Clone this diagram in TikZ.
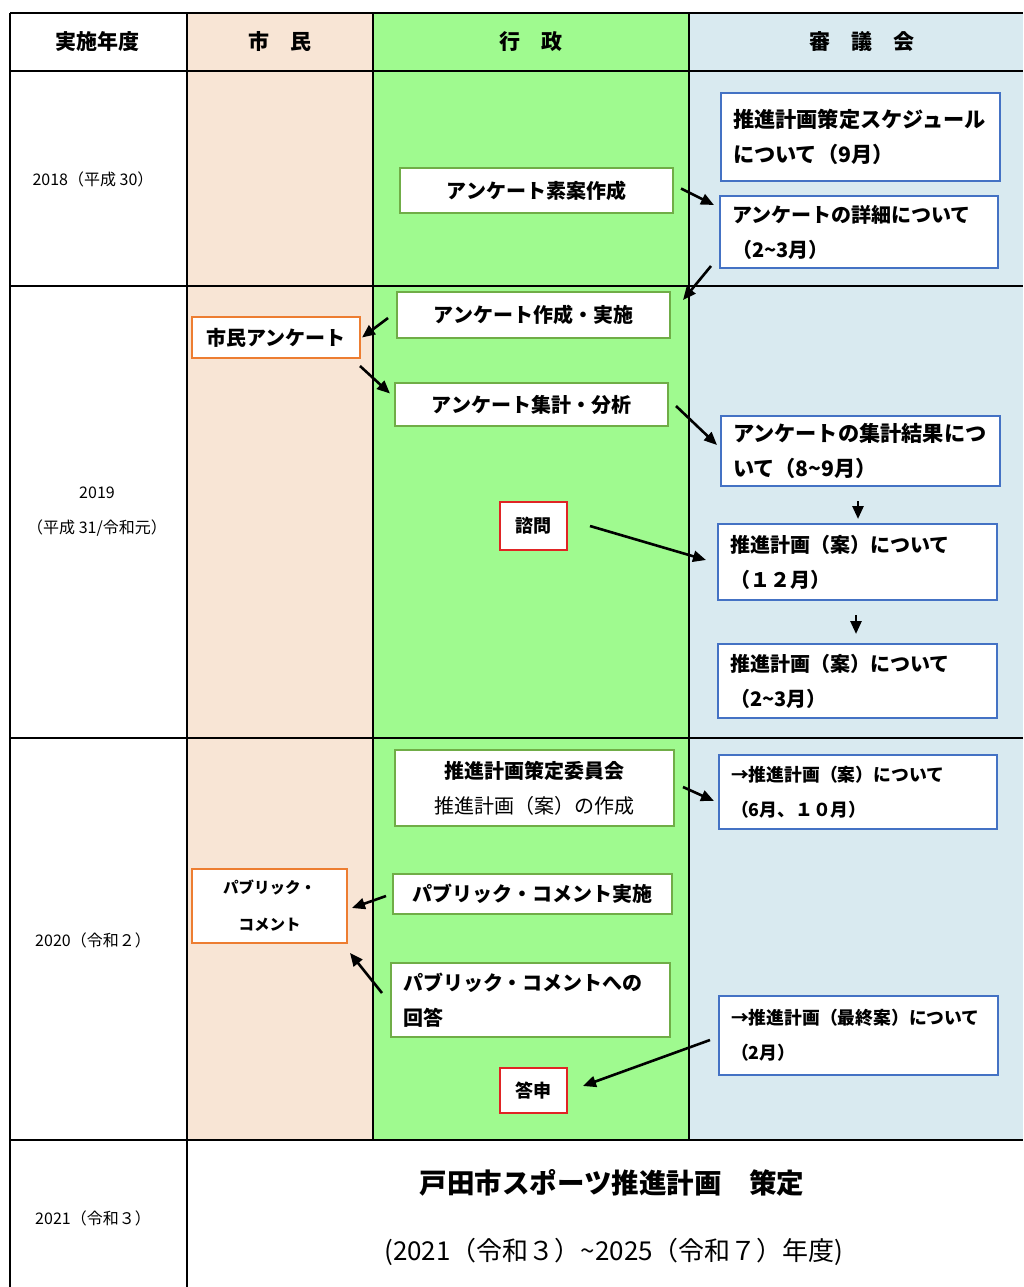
\documentclass[tikz,border=0pt]{standalone}
\usepackage{fontspec}
\setmainfont{Noto Sans CJK JP}
\usetikzlibrary{arrows.meta}
\definecolor{peach}{RGB}{248,229,213}
\definecolor{lgreen}{RGB}{159,250,143}
\definecolor{lblue}{RGB}{217,234,240}
\definecolor{gborder}{RGB}{112,173,71}
\definecolor{bborder}{RGB}{68,114,196}
\definecolor{oborder}{RGB}{237,125,49}
\definecolor{rborder}{RGB}{224,36,36}
\newcommand{\boxfont}{\fontsize{20}{35}\selectfont\bfseries}
\newcommand{\wdfont}{\fontsize{21.2}{35}\selectfont\bfseries}
\newcommand{\smfont}{\fontsize{17.8}{35}\selectfont\bfseries}
\newcommand{\yrfont}{\fontsize{16}{35}\selectfont}
\newcommand{\hdfont}{\fontsize{21}{24}\selectfont\bfseries}
\begin{document}
\begin{tikzpicture}[x=1pt,y=-1pt,
  box/.style={fill=white, inner xsep=12pt, inner ysep=2pt, font=\boxfont, outer sep=0pt},
  gbox/.style={box, draw=gborder, line width=2pt, align=center},
  bbox/.style={box, draw=bborder, line width=2.2pt, align=left},
  obox/.style={box, draw=oborder, line width=2.2pt, align=center},
  rbox/.style={box, draw=rborder, line width=2.8pt, align=center, inner xsep=4pt, font=\fontsize{18}{20}\selectfont\bfseries},
  arr/.style={-{Triangle[length=13pt,width=11pt]}, line width=2.6pt},
  grid/.style={line width=1.6pt, black},
  thick grid/.style={line width=2.6pt, black},
  cell/.style={inner sep=0pt},
]
\useasboundingbox (0,0) rectangle (1023,1287);
\fill[white] (0,0) rectangle (1023,1287);
% column fills
\fill[peach] (187,13) rectangle (373,1140);
\fill[lgreen] (373,13) rectangle (689,1140);
\fill[lblue] (689,13) rectangle (1023,1140);
% grid
\draw[grid] (10,13) -- (1023,13);
\draw[thick grid] (10,71) -- (1023,71);
\draw[thick grid] (10,286) -- (1023,286);
\draw[thick grid] (10,738) -- (1023,738);
\draw[thick grid] (10,1140) -- (1023,1140);
\draw[grid] (10,13) -- (10,1287);
\draw[grid] (187,13) -- (187,1287);
\draw[grid] (373,13) -- (373,1140);
\draw[grid] (689,13) -- (689,1140);
% headers
\node[cell, font=\hdfont] (h1) at (97,42) {実施年度};
\node[cell, font=\hdfont] (h2) at (280,42) {市　民};
\node[cell, font=\hdfont] (h3) at (531,42) {行　政};
\node[cell, font=\hdfont] (h4) at (862,42) {審　議　会};
% years
\node[cell, font=\yrfont] (y1) at (93,179) {2018（平成 30）};
\node[cell, font=\yrfont, align=center] (y2) at (97,512) {2019\\（平成 31/令和元）};
\node[cell, font=\yrfont] (y3) at (93,940) {2020（令和２）};
\node[cell, font=\yrfont] (y4) at (93,1218) {2021（令和３）};
% 2018
\node[bbox, text width=255pt, minimum height=88pt, font=\wdfont] (B1) at (860.5,137) {推進計画策定スケジュール\\について（9月）\\[12pt]};
\node[bbox, text width=254pt, minimum height=72pt] (B2) at (859,232) {アンケートの詳細について\\（2\textasciitilde 3月）};
\node[gbox, text width=249pt, minimum height=45pt] (G1) at (536.5,190.5) {アンケート素案作成};
% 2019
\node[gbox, text width=249pt, minimum height=46pt] (G2) at (533.5,315) {アンケート作成・実施};
\node[obox, text width=144pt, minimum height=41pt] (O1) at (276,337.5) {市民アンケート};
\node[gbox, text width=249pt, minimum height=43pt] (G3) at (531.5,404.5) {アンケート集計・分析};
\node[bbox, text width=255pt, minimum height=70pt, font=\wdfont] (B3) at (860.5,451) {アンケートの集計結果につ\\いて（8\textasciitilde 9月）};
\node[rbox, minimum width=67pt, minimum height=48pt] (R1) at (533.5,526) {諮問};
\node[bbox, text width=255pt, minimum height=76pt] (B4) at (857.5,562) {推進計画（案）について\\（１２月）};
\node[bbox, text width=255pt, minimum height=74pt] (B5) at (857.5,681) {推進計画（案）について\\（2\textasciitilde 3月）};
% 2020
\node[gbox, text width=255pt, minimum height=76pt] (G4) at (534.5,788) {推進計画策定委員会\\{\mdseries 推進計画（案）の作成}};
\node[bbox, text width=254pt, minimum height=74pt, font=\smfont] (B6) at (858,792) {→推進計画（案）について\\（6月、１０月）};
\node[obox, text width=131pt, minimum height=74pt, font=\fontsize{15.5}{37}\selectfont\bfseries] (O2) at (269.5,906) {パブリック・\\コメント};
\node[gbox, text width=255pt, minimum height=40pt] (G5) at (532.5,894) {パブリック・コメント実施};
\node[gbox, text width=255pt, minimum height=74pt, align=left] (G6) at (530.5,1000) {パブリック・コメントへの\\回答};
\node[bbox, text width=255pt, minimum height=79pt, font=\smfont] (B7) at (858.5,1035.5) {→推進計画（最終案）について\\（2月）};
\node[rbox, minimum width=67pt, minimum height=45pt] (R2) at (533.5,1090.5) {答申};
% 2021
\node[cell, font=\fontsize{27.5}{30}\selectfont\bfseries] (T1) at (612,1183) {戸田市スポーツ推進計画　策定};
\node[cell, font=\fontsize{26}{30}\selectfont] (T2) at (614,1252) {(2021（令和３）\textasciitilde 2025（令和７）年度)};
% arrows
\draw[arr] ([shift={(8,-2)}]G1.east) -- ([shift={(-6,-27)}]B2.west);
\draw[arr] ([shift={(-9,-2)}]B2.south west) -- ([shift={(13,8)}]G2.north east);
\draw[arr] ([shift={(-9,3)}]G2.west) -- ([shift={(2,0)}]O1.east);
\draw[arr] ([shift={(0,8)}]O1.south east) -- ([shift={(-5,-11)}]G3.west);
\draw[arr] ([shift={(8,1.5)}]G3.east) -- ([shift={(-4,-6)}]B3.west);
\draw[arr] ([shift={(-2.5,15)}]B3.south) -- ([shift={(0.5,-5)}]B4.north);
\draw[arr] ([shift={(23,0)}]R1.east) -- ([shift={(-12,-2)}]B4.west);
\draw[arr] ([shift={(-1.5,15)}]B4.south) -- ([shift={(-1.5,-10)}]B5.north);
\draw[arr] ([shift={(9,-1)}]G4.east) -- ([shift={(-5,9)}]B6.west);
\draw[arr] ([shift={(-7,2)}]G5.west) -- ([shift={(5,2)}]O2.east);
\draw[arr] ([shift={(-9,-7)}]G6.west) -- ([shift={(3,10)}]O2.south east);
\draw[arr] ([shift={(-9,4.5)}]B7.west) -- ([shift={(16,-4.5)}]R2.east);
\end{tikzpicture}
\end{document}
